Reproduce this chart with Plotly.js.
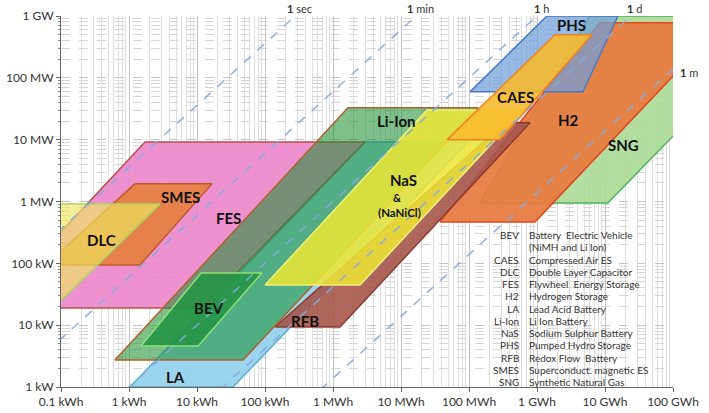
<!DOCTYPE html>
<html>
<head>
<meta charset="utf-8">
<script src="https://cdn.plot.ly/plotly-3.0.1.min.js"></script>
<style>
  html, body { margin: 0; padding: 0; background: #fff; }
  #chart { width: 709px; height: 413px; }
</style>
</head>
<body>
<div id="chart"></div>
<script>
// ---- axis ticks ----
const energyTicks = [0.1, 1, 10, 100, 1e3, 1e4, 1e5, 1e6, 1e7, 1e8];
const energyLabels = ["0.1 kWh", "1 kWh", "10 kWh", "100 kWh", "1 MWh", "10 MWh", "100 MWh", "1 GWh", "10 GWh", "100 GWh"];
const powerTicks = [1, 10, 100, 1e3, 1e4, 1e5, 1e6];
const powerLabels = ["1 kW", "10 kW", "100 kW", "1 MW", "10 MW", "100 MW", "1 GW"];

// ---- discharge-time reference lines (hours) ----
const durationHours = [1 / 3600, 1 / 60, 1, 24, 720];
const durationLabels = ["<b>1</b> sec", "<b>1</b> min", "<b>1</b> h", "<b>1</b> d", "<b>1</b> m"];

// ---- technology regions: corner energy (kWh) and power (kW) ----
const sngE  = [145000, 1.1e7, 1.78e8, 1.78e8, 6.0e6];
const sngP  = [949, 949, 22000, 1e6, 1e6];
const h2E   = [37500, 935000, 1.15e8, 1.15e8, 8.4e6];
const h2P   = [468, 468, 125000, 776000, 776000];
const phsE  = [103500, 4.74e6, 1.55e7, 1.4e6];
const phsP  = [59300, 59300, 1e6, 1e6];
const laE   = [1.03, 33.8, 96600, 2950];
const laP   = [1, 1, 9200, 9200];
const rfbE  = [140, 1270, 789000, 339000];
const rfbP  = [9.35, 9.35, 18700, 18700];
const fesE  = [0.009, 12, 2950, 1.72];
const fesP  = [19, 19, 9200, 9200];
const smesE = [0.06, 1.45, 16.6, 1.22];
const smesP = [94, 94, 1930, 1930];
const dlcE  = [0.01, 0.085, 2.86, 0.01];
const dlcP  = [21, 21, 915, 915];
const liE   = [0.62, 47.5, 135500, 1660];
const liP   = [2.73, 2.73, 32700, 32700];
const bevE  = [1.5, 10.4, 90, 11.5];
const bevP  = [4.6, 4.6, 70, 70];
const nasE  = [100, 2500, 622000, 24100];
const nasP  = [44.7, 44.7, 30300, 30300];
const caesE = [47400, 286000, 6.44e6, 1.84e6];
const caesP = [9930, 9930, 497000, 497000];

// legend table
const legendAbbr = ["BEV", "", "CAES", "DLC", "FES", "H2", "LA", "Li-Ion", "NaS", "PHS", "RFB", "SMES", "SNG"];
const legendText = ["Battery  Electric Vehicle", "(NiMH and Li Ion)", "Compressed Air ES", "Double Layer Capacitor",
  "Flywheel  Energy Storage", "Hydrogen Storage", "Lead Acid Battery", "Li Ion Battery", "Sodium Sulphur Battery",
  "Pumped Hydro Storage", "Redox Flow  Battery", "Superconduct. magnetic ES", "Synthetic Natural Gas"];

// ---- styles (draw order bottom -> top) ----
const techs = [
  {E: sngE,  P: sngP,  fill: "rgba(172,218,150,0.9)",  line: "#4cb45a", lx: 7.27, ly: 3.92, text: "SNG"},
  {E: h2E,   P: h2P,   fill: "rgba(232,122,62,0.92)",  line: "#e0481e", lx: 6.47, ly: 4.32, text: "H2"},
  {E: phsE,  P: phsP,  fill: "rgba(112,158,218,0.72)", line: "#4a78c0", lx: 6.50, ly: 5.86, text: "PHS"},
  {E: laE,   P: laP,   fill: "rgba(150,210,236,0.95)", line: "#5aaed2", lx: 0.69, ly: 0.16, text: "LA"},
  {E: rfbE,  P: rfbP,  fill: "rgba(165,85,75,0.9)",    line: "#8a3c30", lx: 2.59, ly: 1.07, text: "RFB"},
  {E: fesE,  P: fesP,  fill: "rgba(236,138,202,0.93)", line: "#b85050", lx: 1.46, ly: 2.74, text: "FES"},
  {E: smesE, P: smesP, fill: "rgba(230,128,62,0.9)",   line: "#c05a28", lx: 0.75, ly: 3.07, text: "SMES"},
  {E: dlcE,  P: dlcP,  fill: "rgba(240,232,95,0.65)",  line: "#a8d860", lx: -0.40, ly: 2.38, text: "DLC"},
  {E: liE,   P: liP,   fill: "rgba(20,140,45,0.55)",   line: "#b0602a", lx: 3.94, ly: 4.30, text: "Li-Ion"},
  {E: bevE,  P: bevP,  fill: "rgba(35,148,70,0.88)",   line: "#8ee07a", lx: 1.18, ly: 1.28, text: "BEV"},
  {E: nasE,  P: nasP,  fill: "rgba(236,230,52,0.86)",  line: "#f0f078", lx: 4.03, ly: 3.35, text: "NaS"},
  {E: caesE, P: caesP, fill: "rgba(248,186,42,0.88)",  line: "#f08020", lx: 5.68, ly: 4.69, text: "CAES"}
];

const traces = [];
techs.forEach(function (t) {
  traces.push({
    type: "scatter", mode: "lines",
    x: t.E.concat([t.E[0]]), y: t.P.concat([t.P[0]]),
    fill: "toself", fillcolor: t.fill,
    line: {color: t.line, width: 1.5},
    name: t.text, hoverinfo: "skip", showlegend: false
  });
});
// duration lines on top
durationHours.forEach(function (h) {
  const P = [0.01, 1e7];
  traces.push({
    type: "scatter", mode: "lines",
    x: P.map(p => p * h), y: P,
    line: {color: "rgba(135,170,218,0.9)", width: 1.6, dash: "dash"},
    hoverinfo: "skip", showlegend: false
  });
});

const FAM = "Lato, 'Open Sans', sans-serif";
const labelFont = {family: FAM, size: 15, color: "#111"};
const annotations = techs.map(t => ({
  x: t.lx, y: t.ly, xref: "x", yref: "y", text: "<b>" + t.text + "</b>",
  showarrow: false, font: labelFont
}));
annotations.push({x: 3.94, y: 3.06, xref: "x", yref: "y", text: "<b>&</b>", showarrow: false,
  font: {family: FAM, size: 11, color: "#111"}});
annotations.push({x: 3.985, y: 2.83, xref: "x", yref: "y", text: "<b>(NaNiCl)</b>", showarrow: false,
  font: {family: FAM, size: 11.5, color: "#111"}});

// duration labels
const durFont = {family: FAM, size: 11, color: "#333"};
durationHours.forEach(function (h, i) {
  const xTop = Math.log10(h * 1e6);
  if (xTop <= 8) {
    annotations.push({x: xTop, y: 1, xref: "x", yref: "paper", yanchor: "bottom", xanchor: "center",
      xshift: 4, yshift: -1, text: durationLabels[i], showarrow: false, font: durFont});
  } else {
    annotations.push({x: 1, y: Math.log10(1e8 / h), xref: "paper", yref: "y", xanchor: "left", yanchor: "middle",
      xshift: 5, yshift: -3, text: durationLabels[i], showarrow: false, font: durFont});
  }
});

// legend table, one row per annotation
const legFont = {family: FAM, size: 10, color: "#333"};
const rowTop = 0.4097, rowStep = 12.25 / 371;
legendText.forEach(function (txt, i) {
  const yy = rowTop - i * rowStep;
  if (legendAbbr[i]) {
    annotations.push({x: 0.7516, y: yy, xref: "paper", yref: "paper", xanchor: "right", yanchor: "middle",
      text: legendAbbr[i], showarrow: false, font: legFont});
  }
  annotations.push({x: 0.7615, y: yy, xref: "paper", yref: "paper", xanchor: "left", yanchor: "middle",
    text: txt, showarrow: false, font: legFont});
});

const tickFont = {family: FAM, size: 12, color: "#333"};
const layout = {
  width: 709, height: 413,
  margin: {l: 61, r: 36, t: 16, b: 26},
  paper_bgcolor: "#fff", plot_bgcolor: "#fff",
  showlegend: false,
  xaxis: {
    type: "log", range: [-1, 8],
    tickmode: "array", tickvals: energyTicks, ticktext: energyLabels,
    tickfont: tickFont, ticks: "outside", ticklen: 4, tickcolor: "#666",
    showline: true, linecolor: "#666", linewidth: 1,
    showgrid: true, gridcolor: "#c4c4c4", gridwidth: 1,
    minor: {dtick: "D1", showgrid: true, gridcolor: "#dddddd", gridwidth: 1, ticks: ""},
    zeroline: false, fixedrange: true
  },
  yaxis: {
    type: "log", range: [0, 6],
    tickmode: "array", tickvals: powerTicks, ticktext: powerLabels,
    tickfont: tickFont, ticks: "outside", ticklen: 4, tickcolor: "#666",
    showline: true, linecolor: "#666", linewidth: 1,
    showgrid: true, gridcolor: "#c4c4c4", gridwidth: 1, griddash: "dash",
    minor: {dtick: "D1", showgrid: true, gridcolor: "#d6d6d6", gridwidth: 1, griddash: "dash", ticks: "outside", ticklen: 2, tickcolor: "#888"},
    zeroline: false, fixedrange: true
  },
  shapes: [{
    type: "rect", xref: "paper", yref: "paper", layer: "below",
    x0: 0.712, x1: 0.997, y0: 0.004, y1: 0.418,
    fillcolor: "#ffffff", line: {width: 0}
  }],
  annotations: annotations
};

Plotly.newPlot("chart", traces, layout, {displayModeBar: false, staticPlot: true});
</script>
</body>
</html>
